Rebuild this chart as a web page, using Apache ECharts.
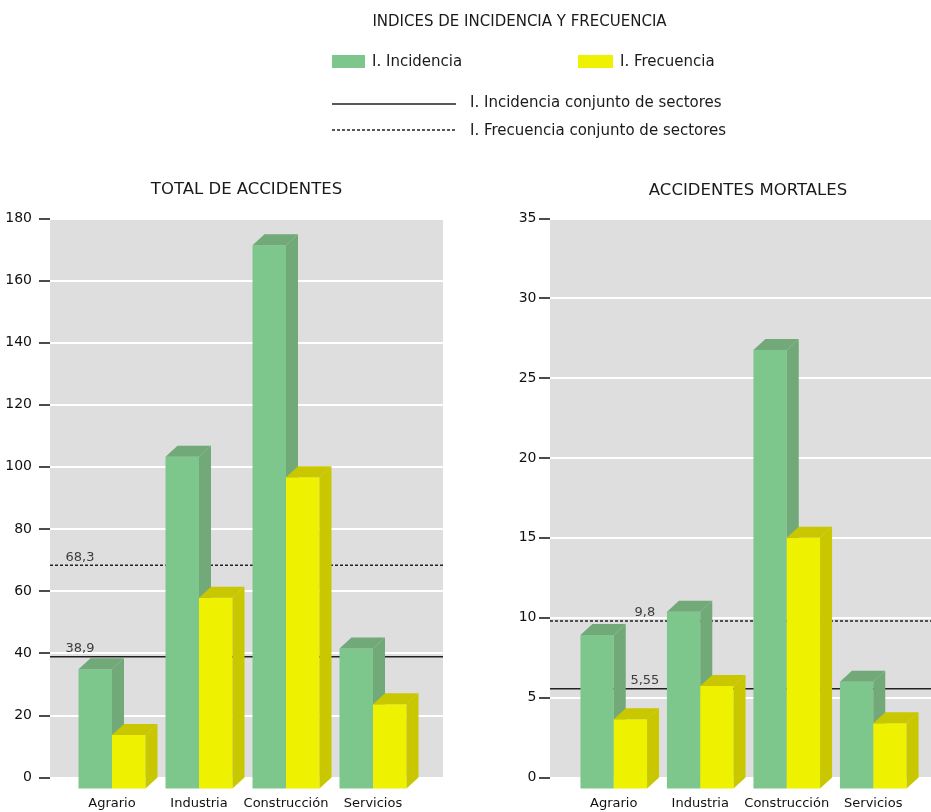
<!DOCTYPE html>
<html><head><meta charset="utf-8">
<script src="https://cdn.jsdelivr.net/npm/echarts@6/dist/echarts.min.js"></script>
<style>html,body{margin:0;padding:0;background:#fff}#c{width:931px;height:812px}</style>
</head><body><div id="c"></div>
<script>
// ---------- data ----------
const categories = ['Agrario', 'Industria', 'Construcción', 'Servicios'];
const seriesNames = ['I. Incidencia', 'I. Frecuencia'];
const refNames = ['I. Incidencia conjunto de sectores', 'I. Frecuencia conjunto de sectores'];
const chartTitles = ['TOTAL DE ACCIDENTES', 'ACCIDENTES MORTALES'];
const mainTitle = 'INDICES DE INCIDENCIA Y FRECUENCIA';

const totalIncidencia = [38.4, 106.8, 174.9, 45.1];
const totalFrecuencia = [17.2, 61.4, 100.2, 27.1];
const totalRefIncidencia = 38.9;
const totalRefFrecuencia = 68.3;
const totalTicks = [0, 20, 40, 60, 80, 100, 120, 140, 160, 180];

const mortalIncidencia = [9.6, 11.06, 27.44, 6.68];
const mortalFrecuencia = [4.33, 6.41, 15.69, 4.08];
const mortalRefIncidencia = 5.55;
const mortalRefFrecuencia = 9.8;
const mortalTicks = [0, 5, 10, 15, 20, 25, 30, 35];

// ---------- style ----------
const FONT = 'DejaVu Sans';
const GREEN = { front: '#7dc78c', side: '#71a979' };
const YELLOW = { front: '#eef200', side: '#c8c700' };
const WALL = '#dedede';
const DX = 12, DY = 11;

function bar3D(isFirst, colors) {
  return function (params, api) {
    const ci = api.value(0);
    const v = api.value(1);
    const base = api.coord([ci, 0]);
    const top = api.coord([ci, v]);
    const w = api.size([1, 0])[0] * 0.385;
    const x0 = isFirst ? base[0] - w : base[0];
    const x1 = x0 + w;
    const yb = base[1], yt = top[1];
    return {
      type: 'group',
      children: [
        { type: 'rect', shape: { x: x0, y: yt, width: w, height: yb - yt }, style: { fill: colors.front } },
        { type: 'polygon', shape: { points: [[x1, yb], [x1 + DX, yb - DY], [x1 + DX, yt - DY], [x1, yt]] }, style: { fill: colors.side } },
        { type: 'polygon', shape: { points: [[x0, yt], [x0 + DX, yt - DY], [x1 + DX, yt - DY], [x1, yt]] }, style: { fill: colors.side } }
      ]
    };
  };
}

function fmt(v) { return String(v).replace('.', ','); }

const plotH = 559.2;
const grids = [
  { left: 50, top: 218.3, width: 393, height: plotH, show: true, backgroundColor: WALL, borderWidth: 0 },
  { left: 50 + 18.5, top: 218.3 + DY, width: 348, height: plotH },
  { left: 550, top: 218.3, width: 381, height: plotH, show: true, backgroundColor: WALL, borderWidth: 0 },
  { left: 550 + 20.5, top: 218.3 + DY, width: 346, height: plotH }
];

function wallY(gridIndex, ticks, labelMargin) {
  return {
    gridIndex, type: 'value', min: ticks[0], max: ticks[ticks.length - 1], interval: ticks[1] - ticks[0],
    axisLine: { show: false },
    axisTick: { show: true, length: 11, lineStyle: { color: '#111', width: 1.5 } },
    axisLabel: { margin: labelMargin, fontFamily: FONT, fontSize: 14, color: '#111' },
    splitLine: { show: true, lineStyle: { color: '#ffffff', width: 2 } }
  };
}
function barY(gridIndex, ticks) {
  return { gridIndex, type: 'value', min: ticks[0], max: ticks[ticks.length - 1], show: false, splitLine: { show: false } };
}
function barX(gridIndex) {
  return {
    gridIndex, type: 'category', data: categories,
    axisLine: { show: false }, axisTick: { show: false },
    axisLabel: { margin: 9, fontFamily: FONT, fontSize: 13, color: '#111', interval: 0 }
  };
}
function wallX(gridIndex) {
  return { gridIndex, type: 'value', min: 0, max: 1, show: false, splitLine: { show: false } };
}

function refLine(ax, value, dashed) {
  return {
    type: 'line', xAxisIndex: ax, yAxisIndex: ax, silent: true, z: 2,
    symbol: 'none', data: [[0, value], [1, value]],
    lineStyle: { color: '#222', width: 1.5, type: dashed ? [3, 2] : 'solid' }
  };
}
function refLabels(ax, values, xFrac) {
  return {
    type: 'scatter', xAxisIndex: ax, yAxisIndex: ax, silent: true, z: 3,
    symbolSize: 1, itemStyle: { color: 'rgba(0,0,0,0)' },
    data: values.map(v => [xFrac, v]),
    label: {
      show: true, position: 'top', distance: 1,
      fontFamily: FONT, fontSize: 13, color: '#111',
      formatter: p => fmt(p.value[1])
    }
  };
}
function barSeries(ax, values, isFirst, colors, name) {
  return {
    type: 'custom', name, xAxisIndex: ax, yAxisIndex: ax, z: 5,
    renderItem: bar3D(isFirst, colors),
    encode: { x: 0, y: 1 },
    data: values.map((v, i) => [i, v])
  };
}

const option = {
  animation: false,
  backgroundColor: '#ffffff',
  grid: grids,
  xAxis: [wallX(0), barX(1), wallX(2), barX(3)],
  yAxis: [wallY(0, totalTicks, 18), barY(1, totalTicks), wallY(2, mortalTicks, 13.5), barY(3, mortalTicks)],
  series: [
    refLine(0, totalRefIncidencia, false),
    refLine(0, totalRefFrecuencia, true),
    refLabels(0, [totalRefIncidencia, totalRefFrecuencia], 0.0763),
    barSeries(1, totalIncidencia, true, GREEN, seriesNames[0]),
    barSeries(1, totalFrecuencia, false, YELLOW, seriesNames[1]),
    refLine(2, mortalRefIncidencia, false),
    refLine(2, mortalRefFrecuencia, true),
    refLabels(2, [mortalRefIncidencia, mortalRefFrecuencia], 0.249),
    barSeries(3, mortalIncidencia, true, GREEN, seriesNames[0]),
    barSeries(3, mortalFrecuencia, false, YELLOW, seriesNames[1])
  ],
  graphic: [
    { type: 'text', x: 519.5, y: 22, style: { text: mainTitle, font: '15px "' + FONT + '"', fill: '#1a1a1a', textAlign: 'center', textVerticalAlign: 'middle' } },
    { type: 'text', x: 246.5, y: 190, style: { text: chartTitles[0], font: '16.5px "' + FONT + '"', fill: '#1a1a1a', textAlign: 'center', textVerticalAlign: 'middle' } },
    { type: 'text', x: 748, y: 190.5, style: { text: chartTitles[1], font: '16.5px "' + FONT + '"', fill: '#1a1a1a', textAlign: 'center', textVerticalAlign: 'middle' } },
    { type: 'rect', shape: { x: 332, y: 55, width: 33, height: 13 }, style: { fill: GREEN.front } },
    { type: 'text', x: 372, y: 62, style: { text: seriesNames[0], font: '15px "' + FONT + '"', fill: '#1a1a1a', textVerticalAlign: 'middle' } },
    { type: 'rect', shape: { x: 578, y: 55, width: 35, height: 13 }, style: { fill: YELLOW.front } },
    { type: 'text', x: 620, y: 62, style: { text: seriesNames[1], font: '15px "' + FONT + '"', fill: '#1a1a1a', textVerticalAlign: 'middle' } },
    { type: 'line', shape: { x1: 332, y1: 104, x2: 456, y2: 104 }, style: { stroke: '#222', lineWidth: 1.5 } },
    { type: 'text', x: 470, y: 103, style: { text: refNames[0], font: '15px "' + FONT + '"', fill: '#1a1a1a', textVerticalAlign: 'middle' } },
    { type: 'line', shape: { x1: 332, y1: 130, x2: 456, y2: 130 }, style: { stroke: '#222', lineWidth: 1.5, lineDash: [3, 2] } },
    { type: 'text', x: 470, y: 131, style: { text: refNames[1], font: '15px "' + FONT + '"', fill: '#1a1a1a', textVerticalAlign: 'middle' } }
  ]
};

const chart = echarts.init(document.getElementById('c'), null, { renderer: 'canvas' });
chart.setOption(option);
</script>
</body></html>
